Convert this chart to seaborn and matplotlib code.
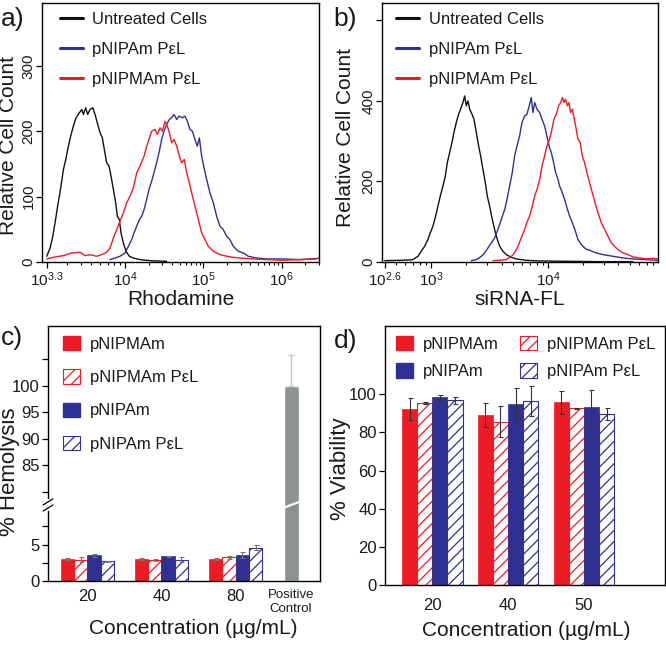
import numpy as np
import pandas as pd
import seaborn as sns
import matplotlib
matplotlib.use("Agg")
import matplotlib.pyplot as plt
import matplotlib.transforms as mtransforms
from matplotlib.ticker import FixedLocator, FixedFormatter, LogLocator, NullFormatter
from matplotlib.patches import Patch
from matplotlib.lines import Line2D

# ---------------- data ----------------
# a) Rhodamine histograms (x as log10 intensity, y as relative cell count)
rho_log_untreated = [3.300, 3.330, 3.354, 3.374, 3.395, 3.413, 3.434, 3.449, 3.470, 3.494,
                     3.514, 3.538, 3.562, 3.592, 3.613, 3.628, 3.648, 3.666, 3.687, 3.711,
                     3.732, 3.756, 3.777, 3.797, 3.815, 3.836, 3.857, 3.875, 3.896, 3.917,
                     3.931, 3.949, 3.964, 3.985, 4.013, 4.055, 4.106, 4.191, 4.319, 4.532]
rho_cnt_untreated = [8.7, 21.5, 39.3, 59.8, 82.8, 100.7, 123.7, 141.5, 156.9, 177.3,
                     192.6, 208.0, 220.7, 228.4, 233.5, 225.9, 236.1, 225.9, 233.5, 236.1,
                     225.9, 210.5, 197.8, 190.1, 172.2, 151.8, 146.7, 131.3, 110.9, 90.4,
                     70.0, 64.9, 44.5, 29.1, 16.4, 8.7, 6.1, 3.6, 2.0, 1.0]
rho_log_pnipam = [3.866, 3.911, 3.955, 4.000, 4.043, 4.085, 4.115, 4.149, 4.183, 4.213,
                  4.243, 4.277, 4.306, 4.340, 4.370, 4.404, 4.438, 4.468, 4.498, 4.532,
                  4.566, 4.596, 4.626, 4.660, 4.689, 4.736, 4.766, 4.796, 4.830, 4.860,
                  4.894, 4.923, 4.949, 4.979, 5.009, 5.043, 5.085, 5.128, 5.170, 5.213,
                  5.255, 5.298, 5.340, 5.383, 5.447, 5.511, 5.574, 5.681, 5.809, 6.021,
                  6.234, 6.477]
rho_cnt_pnipam = [3.6, 6.1, 8.7, 13.8, 24.0, 34.2, 44.5, 54.7, 64.9, 70.0,
                  80.2, 95.6, 110.9, 123.7, 136.4, 151.8, 169.6, 187.5, 200.3, 210.5,
                  218.2, 220.7, 225.9, 218.2, 223.3, 220.7, 223.3, 215.6, 202.9, 200.3,
                  187.5, 177.3, 190.1, 161.9, 144.1, 126.2, 105.8, 90.4, 70.0, 54.7,
                  49.6, 39.3, 34.2, 24.0, 16.4, 13.8, 8.7, 6.1, 4.6, 4.6,
                  3.6, 5.6]
rho_log_pnipmam = [3.300, 3.374, 3.449, 3.523, 3.598, 3.643, 3.687, 3.747, 3.791, 3.836,
                   3.866, 3.896, 3.926, 3.955, 3.985, 4.021, 4.064, 4.106, 4.149, 4.191,
                   4.243, 4.277, 4.306, 4.340, 4.383, 4.413, 4.447, 4.477, 4.511, 4.540,
                   4.566, 4.596, 4.626, 4.660, 4.694, 4.723, 4.757, 4.787, 4.821, 4.851,
                   4.894, 4.936, 4.979, 5.021, 5.064, 5.128, 5.213, 5.340, 5.468, 5.638,
                   5.809, 6.021, 6.234, 6.447]
rho_cnt_pnipmam = [4.6, 7.7, 9.7, 13.8, 14.8, 9.7, 11.2, 8.7, 11.2, 14.8,
                   21.5, 36.8, 49.6, 62.3, 75.1, 90.4, 100.7, 113.4, 136.4, 146.7,
                   161.9, 177.3, 187.5, 200.3, 202.9, 195.2, 205.4, 200.3, 215.6, 208.0,
                   197.8, 182.4, 187.5, 177.3, 161.9, 151.8, 156.9, 136.4, 121.1, 105.8,
                   85.3, 64.9, 44.5, 34.2, 24.0, 16.4, 11.2, 7.7, 6.1, 4.6,
                   3.6, 2.6, 3.6, 4.6]

# b) siRNA-FL histograms
fl_log_untreated = [2.600, 2.729, 2.814, 2.843, 2.886, 2.914, 2.943, 2.971, 2.991, 3.014,
                    3.037, 3.057, 3.077, 3.100, 3.120, 3.137, 3.157, 3.177, 3.194, 3.214,
                    3.234, 3.251, 3.271, 3.286, 3.300, 3.314, 3.329, 3.349, 3.366, 3.386,
                    3.406, 3.423, 3.443, 3.463, 3.480, 3.500, 3.523, 3.543, 3.566, 3.586,
                    3.614, 3.643, 3.686, 3.729, 3.814, 3.929, 4.157, 4.443, 4.729]
fl_cnt_untreated = [3.3, 4.1, 5.0, 5.8, 14.1, 26.6, 39.0, 55.6, 72.2, 88.8,
                    113.7, 138.6, 163.5, 188.4, 213.3, 246.5, 271.4, 296.3, 321.2, 346.1,
                    366.8, 379.3, 395.9, 412.4, 387.6, 400.0, 379.3, 366.8, 354.4, 321.2,
                    288.0, 263.1, 229.9, 196.7, 163.5, 138.6, 105.4, 80.5, 55.6, 39.0,
                    26.6, 18.3, 11.6, 7.5, 4.1, 2.5, 1.7, 0.8, 0.8]
fl_log_pnipam = [3.343, 3.386, 3.429, 3.457, 3.486, 3.514, 3.543, 3.571, 3.600, 3.629,
                 3.649, 3.671, 3.694, 3.714, 3.734, 3.757, 3.777, 3.800, 3.820, 3.843,
                 3.857, 3.871, 3.886, 3.906, 3.929, 3.949, 3.971, 3.991, 4.009, 4.029,
                 4.049, 4.066, 4.086, 4.100, 4.123, 4.143, 4.163, 4.186, 4.209, 4.231,
                 4.257, 4.286, 4.323, 4.357, 4.414, 4.471, 4.557, 4.643, 4.729, 4.843,
                 4.943]
fl_cnt_pnipam = [3.3, 5.8, 14.1, 22.4, 34.9, 47.3, 59.8, 80.5, 105.4, 130.3,
                 155.2, 188.4, 221.6, 263.1, 288.0, 312.9, 346.1, 362.7, 366.8, 391.7,
                 408.3, 371.0, 395.9, 379.3, 371.0, 354.4, 337.8, 312.9, 288.0, 271.4,
                 246.5, 221.6, 205.0, 188.4, 171.8, 155.2, 134.4, 113.7, 97.1, 80.5,
                 55.6, 43.2, 32.4, 29.0, 22.4, 18.3, 14.1, 10.0, 7.5, 5.8,
                 4.1]
fl_log_pnipmam = [3.529, 3.586, 3.643, 3.686, 3.714, 3.743, 3.771, 3.800, 3.823, 3.843,
                  3.866, 3.886, 3.906, 3.929, 3.949, 3.971, 3.991, 4.014, 4.034, 4.051,
                  4.071, 4.091, 4.109, 4.123, 4.137, 4.151, 4.166, 4.180, 4.194, 4.209,
                  4.220, 4.237, 4.257, 4.277, 4.294, 4.314, 4.334, 4.357, 4.380, 4.403,
                  4.429, 4.457, 4.486, 4.514, 4.543, 4.571, 4.600, 4.643, 4.686, 4.729,
                  4.786, 4.843, 4.900, 4.943]
fl_cnt_pnipmam = [3.3, 4.1, 5.8, 14.1, 22.4, 39.0, 59.8, 80.5, 101.2, 113.7,
                  138.6, 163.5, 180.1, 205.0, 238.2, 263.1, 288.0, 304.6, 329.5, 354.4,
                  366.8, 387.6, 395.9, 408.3, 395.9, 404.1, 387.6, 395.9, 371.0, 379.3,
                  362.7, 337.8, 304.6, 296.3, 263.1, 246.5, 221.6, 196.7, 171.8, 146.9,
                  122.0, 97.1, 80.5, 63.9, 47.3, 39.0, 30.7, 22.4, 18.3, 12.4,
                  10.0, 7.5, 9.1, 7.5]

hist_names = ["Untreated Cells", "pNIPAm P\u03b5L", "pNIPMAm P\u03b5L"]

# c) hemolysis (%)
hemo_conc = ["20", "40", "80"]
hemo_pnipmam = [3.0, 3.05, 3.05]
hemo_pnipmam_err = [0.1, 0.1, 0.1]
hemo_pnipmam_pel = [2.9, 2.9, 3.25]
hemo_pnipmam_pel_err = [0.35, 0.1, 0.2]
hemo_pnipam = [3.55, 3.4, 3.55]
hemo_pnipam_err = [0.2, 0.1, 0.45]
hemo_pnipam_pel = [2.7, 2.95, 4.6]
hemo_pnipam_pel_err = [0.1, 0.3, 0.3]
hemo_control = 100.0
hemo_control_err = 5.8

# d) viability (%)
via_conc = ["20", "40", "50"]
via_pnipmam = [92.0, 89.1, 95.7]
via_pnipmam_err = [5.8, 6.1, 6.1]
via_pnipmam_pel = [95.2, 85.6, 92.6]
via_pnipmam_pel_err = [0.5, 8.2, 0.4]
via_pnipam = [98.3, 94.7, 93.1]
via_pnipam_err = [1.5, 8.7, 9.1]
via_pnipam_pel = [96.9, 96.4, 89.4]
via_pnipam_pel_err = [1.8, 7.9, 3.2]

bar_names = ["pNIPMAm", "pNIPMAm P\u03b5L", "pNIPAm", "pNIPAm P\u03b5L"]

# ---------------- style ----------------
RED = "#ED1C24"
BLUE = "#2E3192"
GRAY = "#8C9290"
TXT = "#1a1a1a"

sns.set_style("ticks")
plt.rcParams["font.family"] = ["Liberation Sans", "DejaVu Sans"]
plt.rcParams["mathtext.fontset"] = "custom"
plt.rcParams["mathtext.rm"] = "Liberation Sans"
plt.rcParams["mathtext.it"] = "Liberation Sans:italic"
plt.rcParams["hatch.linewidth"] = 0.9
plt.rcParams["text.color"] = TXT
plt.rcParams["axes.labelcolor"] = TXT
plt.rcParams["xtick.color"] = "black"
plt.rcParams["ytick.color"] = "black"
plt.rcParams["xtick.labelcolor"] = TXT
plt.rcParams["ytick.labelcolor"] = TXT

fig = plt.figure(figsize=(6.66, 6.47), dpi=100)
ax_a = fig.add_axes([0.0638, 0.5951, 0.4152, 0.4008])
ax_b = fig.add_axes([0.5740, 0.5951, 0.4140, 0.4008])
ax_c = fig.add_axes([0.0721, 0.1020, 0.4084, 0.3941])
ax_d = fig.add_axes([0.5781, 0.0958, 0.4204, 0.4003])

for ax in (ax_a, ax_b, ax_c, ax_d):
    for s in ax.spines.values():
        s.set_linewidth(1.0)
        s.set_color("black")


def histogram_panel(ax, curves, xlabel, ylabel_xy, legend_x):
    colors = ["#111111", BLUE, RED]
    for (lx, cnt), name, col in zip(curves, hist_names, colors):
        df = pd.DataFrame({"x": 10 ** np.array(lx), "count": cnt})
        sns.lineplot(data=df, x="x", y="count", color=col, lw=1.0, estimator=None,
                     sort=False, label=name, ax=ax)
    ax.set_xlabel(xlabel, fontsize=15, labelpad=1)
    ax.set_ylabel("Relative Cell Count", fontsize=15)
    ax.yaxis.set_label_coords(ylabel_xy[0], ylabel_xy[1])
    ax.tick_params(axis="both", which="major", direction="out", length=4, width=0.9,
                   labelsize=11, pad=2)
    ax.tick_params(axis="y", pad=1)
    ax.tick_params(axis="x", which="minor", direction="out", length=2.5, width=0.8)
    ax.tick_params(axis="y", labelrotation=90)
    handles = [Line2D([], [], color=c, lw=2.2) for c in colors]
    ax.legend(handles, hist_names, loc="upper left", frameon=False, fontsize=12,
              handlelength=1.4, handletextpad=0.55, labelspacing=0.9,
              borderpad=0, borderaxespad=0, bbox_to_anchor=(legend_x, 0.965))


# ---- a) stretched log axis (10^3.3 .. 10^4 drawn as one decade)
def rho_fwd(x):
    lx = np.log10(np.clip(np.asarray(x, float), 1e-3, None))
    return np.where(lx >= 4, lx, 4 - (4 - lx) / 0.7)


def rho_inv(p):
    p = np.asarray(p, float)
    return np.where(p >= 4, 10 ** p, 10 ** (4 - 0.7 * (4 - p)))


histogram_panel(ax_a, [(rho_log_untreated, rho_cnt_untreated),
                       (rho_log_pnipam, rho_cnt_pnipam),
                       (rho_log_pnipmam, rho_cnt_pnipmam)],
                "Rhodamine", (-0.088, 0.45), 0.063)
ax_a.set_xscale("function", functions=(rho_fwd, rho_inv))
ax_a.set_xlim(10 ** 3.262, 10 ** 6.478)
ax_a.set_ylim(0, 397)
ax_a.set_yticks([0, 100, 200, 300])
ax_a.xaxis.set_major_locator(FixedLocator([10 ** 3.3, 1e4, 1e5, 1e6]))
ax_a.xaxis.set_major_formatter(FixedFormatter([r"$\mathregular{10^{3.3}}$", r"$\mathregular{10^{4}}$",
                                               r"$\mathregular{10^{5}}$", r"$\mathregular{10^{6}}$"]))
ax_a.xaxis.set_minor_locator(LogLocator(base=10, subs=np.arange(2, 10), numticks=50))
ax_a.xaxis.set_minor_formatter(NullFormatter())
for lab in ax_a.get_yticklabels():
    lab.set_va("center")

# ---- b) log axis
histogram_panel(ax_b, [(fl_log_untreated, fl_cnt_untreated),
                       (fl_log_pnipam, fl_cnt_pnipam),
                       (fl_log_pnipmam, fl_cnt_pnipmam)],
                "siRNA-FL", (-0.099, 0.48), 0.05)
ax_b.set_xscale("log")
ax_b.set_xlim(10 ** 2.58, 10 ** 4.943)
ax_b.set_ylim(0, 644)
ax_b.set_yticks([0, 200, 400, 600])
ax_b.set_yticklabels(["0", "200", "400", ""])
ax_b.xaxis.set_major_locator(FixedLocator([10 ** 2.6, 1e3, 1e4]))
ax_b.xaxis.set_major_formatter(FixedFormatter([r"$\mathregular{10^{2.6}}$", r"$\mathregular{10^{3}}$",
                                               r"$\mathregular{10^{4}}$"]))
ax_b.xaxis.set_minor_locator(LogLocator(base=10, subs=np.arange(2, 10), numticks=50))
ax_b.xaxis.set_minor_formatter(NullFormatter())
for lab in ax_b.get_yticklabels():
    lab.set_va("center")


# ---------------- bar panels ----------------
def style_bars(ax, vals, errs, ecolor):
    cols = [RED, RED, BLUE, BLUE]
    for i, cont in enumerate(ax.containers[:4]):
        for p in cont:
            if i % 2 == 1:
                p.set_facecolor("white")
                p.set_edgecolor(cols[i])
                p.set_hatch("///")
                p.set_linewidth(0.8)
            else:
                p.set_facecolor(cols[i])
                p.set_edgecolor(cols[i])
                p.set_linewidth(0.5)
        xs = [p.get_x() + p.get_width() / 2 for p in cont]
        ax.errorbar(xs, vals[i], yerr=errs[i], fmt="none", ecolor=ecolor,
                    elinewidth=0.8, capsize=1.8, capthick=0.8, zorder=4)


def bar_legend_handles():
    return [Patch(facecolor=RED, edgecolor=RED),
            Patch(facecolor="white", edgecolor=RED, hatch="///", lw=0.8),
            Patch(facecolor=BLUE, edgecolor=BLUE),
            Patch(facecolor="white", edgecolor=BLUE, hatch="///", lw=0.8)]


# ---- c) hemolysis with broken y axis
B0, B1 = 10.4, 77.6
LO, HI, EPS = 7.3, 5.33, 0.01


def hemo_fwd(y):
    y = np.asarray(y, float)
    return np.where(y <= B0, y * LO,
                    np.where(y <= B1, B0 * LO + (y - B0) * EPS,
                             B0 * LO + (B1 - B0) * EPS + (y - B1) * HI))


def hemo_inv(f):
    f = np.asarray(f, float)
    f0 = B0 * LO
    f1 = f0 + (B1 - B0) * EPS
    return np.where(f <= f0, f / LO,
                    np.where(f <= f1, B0 + (f - f0) / EPS, B1 + (f - f1) / HI))


hemo_vals = [hemo_pnipmam, hemo_pnipmam_pel, hemo_pnipam, hemo_pnipam_pel]
hemo_errs = [hemo_pnipmam_err, hemo_pnipmam_pel_err, hemo_pnipam_err, hemo_pnipam_pel_err]
hemo_df = pd.DataFrame({"conc": hemo_conc * 4,
                        "series": np.repeat(bar_names, len(hemo_conc)),
                        "value": sum(hemo_vals, [])})
sns.barplot(data=hemo_df, x="conc", y="value", hue="series", hue_order=bar_names,
            palette=[RED, RED, BLUE, BLUE], saturation=1, errorbar=None, width=0.72,
            legend=False, ax=ax_c)
style_bars(ax_c, hemo_vals, hemo_errs, "#777777")

ctrl_pos = 2.75
ctrl_w = 0.2
ax_c.bar(ctrl_pos, hemo_control, width=ctrl_w, color=GRAY, zorder=2)
ax_c.errorbar(ctrl_pos, hemo_control, yerr=[[0], [hemo_control_err]], fmt="none",
              ecolor="#c4c4c4", elinewidth=1.0, capsize=2, capthick=1.0, zorder=3)

ax_c.set_yscale("function", functions=(hemo_fwd, hemo_inv))
ax_c.set_ylim(0, 111.2)
ax_c.set_xlim(-0.532, 3.14)
ax_c.set_yticks([0, 2.5, 5, 7.5, 80, 85, 90, 95, 100, 105])
ax_c.set_yticklabels(["0", "", "5", "", "", "85", "90", "95", "100", ""])
ax_c.yaxis.set_minor_locator(FixedLocator([]))
ax_c.set_xticks([0, 1, 2, ctrl_pos])
ax_c.set_xticklabels(hemo_conc + ["Positive\nControl"])
ax_c.tick_params(axis="x", length=0, labelsize=12, pad=6)
ax_c.tick_params(axis="y", direction="out", length=4, width=0.9, labelsize=12, pad=2)
ax_c.get_xticklabels()[-1].set_fontsize(9.5)
ax_c.set_xlabel("Concentration (\u00b5g/mL)", fontsize=15)
ax_c.xaxis.set_label_coords(0.533, -0.15)
ax_c.set_ylabel("% Hemolysis", fontsize=16)
ax_c.yaxis.set_label_coords(-0.103, 0.43)

# break marks on the axis and on the control bar
brk = float(hemo_fwd(0.5 * (B0 + B1)) / hemo_fwd(111.2))
blend = mtransforms.blended_transform_factory(ax_c.transData, ax_c.transAxes)
ax_c.plot([ctrl_pos - 0.11, ctrl_pos + 0.11], [brk - 0.012, brk + 0.012], color="white",
          lw=1.6, transform=blend, zorder=5, solid_capstyle="butt")
ax_c.plot([0, 0], [brk - 0.014, brk + 0.014], color="white", lw=3, transform=ax_c.transAxes,
          clip_on=False, zorder=6)
for dy in (-0.012, 0.012):
    ax_c.plot([-0.018, 0.018], [brk + dy - 0.012, brk + dy + 0.012], color="black", lw=0.9,
              transform=ax_c.transAxes, clip_on=False, zorder=7)

ax_c.legend(bar_legend_handles(), bar_names, loc="upper left", frameon=False, fontsize=12,
            handlelength=1.0, handleheight=0.95, handletextpad=0.6, labelspacing=1.05,
            borderpad=0, borderaxespad=0, bbox_to_anchor=(0.055, 0.962))

# ---- d) viability
via_vals = [via_pnipmam, via_pnipmam_pel, via_pnipam, via_pnipam_pel]
via_errs = [via_pnipmam_err, via_pnipmam_pel_err, via_pnipam_err, via_pnipam_pel_err]
via_df = pd.DataFrame({"conc": via_conc * 4,
                       "series": np.repeat(bar_names, len(via_conc)),
                       "value": sum(via_vals, [])})
sns.barplot(data=via_df, x="conc", y="value", hue="series", hue_order=bar_names,
            palette=[RED, RED, BLUE, BLUE], saturation=1, errorbar=None, width=0.8,
            legend=False, ax=ax_d)
style_bars(ax_d, via_vals, via_errs, "#333333")
ax_d.set_ylim(0, 135.7)
ax_d.set_xlim(-0.623, 3.07)
ax_d.set_yticks([0, 20, 40, 60, 80, 100])
ax_d.tick_params(axis="x", length=0, labelsize=12, pad=9)
ax_d.tick_params(axis="y", direction="out", length=4, width=0.9, labelsize=12, pad=2)
ax_d.set_xlabel("Concentration (\u00b5g/mL)", fontsize=15)
ax_d.xaxis.set_label_coords(0.504, -0.14)
ax_d.set_ylabel("% Viability", fontsize=16)
ax_d.yaxis.set_label_coords(-0.121, 0.45)
h = bar_legend_handles()
ax_d.legend([h[0], h[2], h[1], h[3]], [bar_names[0], bar_names[2], bar_names[1], bar_names[3]],
            ncol=2, loc="upper left", frameon=False, fontsize=12, handlelength=1.0,
            handleheight=0.95, handletextpad=0.6, labelspacing=0.7, columnspacing=1.3,
            borderpad=0, borderaxespad=0, bbox_to_anchor=(0.039, 0.962))

# panel letters
for txt, x, y in (("a)", 0.002, 1 - 26 / 647), ("b)", 0.501, 1 - 26 / 647),
                  ("c)", 0.002, 1 - 345 / 647), ("d)", 0.502, 1 - 348 / 647)):
    fig.text(x, y, txt, fontsize=19, va="baseline", ha="left")

fig.savefig("out.png", dpi=100)
